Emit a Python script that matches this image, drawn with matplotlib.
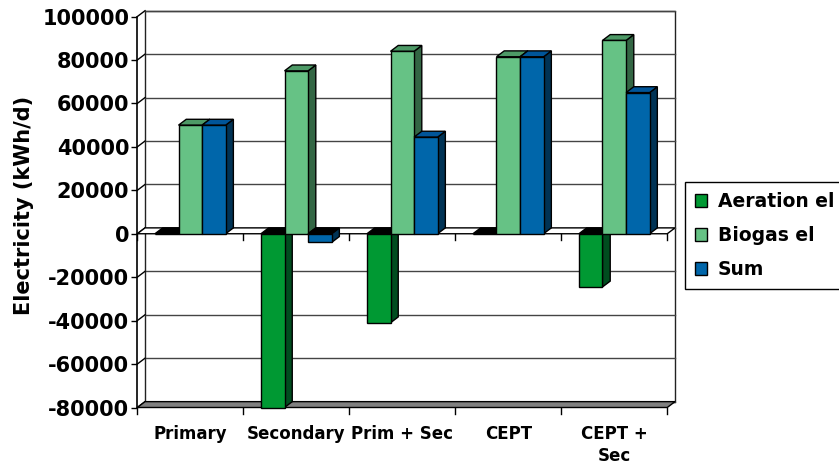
import matplotlib
matplotlib.use('Agg')
import matplotlib.pyplot as plt
from matplotlib.patches import Polygon, Patch

plt.rcParams['font.family'] = 'DejaVu Sans'
plt.rcParams['font.weight'] = 'bold'

categories = ['Primary', 'Secondary', 'Prim + Sec', 'CEPT', 'CEPT +\nSec']
aeration_el = [0, -80000, -41000, 0, -24500]
biogas_el = [50000, 75000, 84000, 81500, 89000]
sum_el = [50000, -4000, 44500, 81500, 65000]
series_names = ['Aeration el', 'Biogas el', 'Sum']
y_ticks = list(range(-80000, 100001, 20000))

# front, side and top shade of each series
shades = {
    'Aeration el': ('#009933', '#004d1f', '#3a8a4a'),
    'Biogas el': ('#66c285', '#336644', '#4d9966'),
    'Sum': ('#0066aa', '#003355', '#005599'),
}

dx = 0.073      # depth offset, category units
dy = 2700       # depth offset, kWh/d
bar_w = 1 / 4.5
tick_len = 2800

fig = plt.figure(figsize=(8.39, 4.63), dpi=100)
ax = fig.add_axes([137.3 / 839, 55.5 / 463, (675 - 137.3) / 839, 396.8 / 463])
x0, x1 = -0.5, len(categories) - 0.5
y0, y1 = y_ticks[0], y_ticks[-1]
ax.set_xlim(x0, x1 + dx)
ax.set_ylim(y0, y1 + dy)
for s in ax.spines.values():
    s.set_visible(False)

# back wall and gridlines
ax.add_patch(Polygon([(x0 + dx, y0 + dy), (x1 + dx, y0 + dy), (x1 + dx, y1 + dy), (x0 + dx, y1 + dy)],
                     closed=True, fc='white', ec='#222222', lw=1, zorder=1, clip_on=False))
for v in y_ticks:
    ax.plot([x0 + dx, x1 + dx], [v + dy, v + dy], color='#444444', lw=1, zorder=1.1, clip_on=False)
    ax.plot([x0, x0 + dx], [v, v + dy], color='black', lw=1, zorder=1.1, clip_on=False)

# floor and the plane at zero
ax.add_patch(Polygon([(x0, y0), (x1, y0), (x1 + dx, y0 + dy), (x0 + dx, y0 + dy)],
                     closed=True, fc='#808080', ec='black', lw=1, zorder=1.5, clip_on=False))
ax.add_patch(Polygon([(x0, 0), (x1, 0), (x1 + dx, dy), (x0 + dx, dy)],
                     closed=True, fc='white', ec='black', lw=1, zorder=1.5))
ax.plot([x0, x0], [y0, y1], color='black', lw=1.2, zorder=1.6, clip_on=False)

# category boundary ticks, at the floor and at zero
for b in range(len(categories) + 1):
    xb = x0 + b
    ax.plot([xb, xb], [y0, y0 - tick_len], color='black', lw=1, clip_on=False, zorder=1.6)
    ax.plot([xb, xb], [0, -tick_len], color='black', lw=1, zorder=1.6)

zo = 3
for i in range(len(categories)):
    for j, (name, vals) in enumerate(zip(series_names, [aeration_el, biogas_el, sum_el])):
        v = vals[i]
        left = i - 1.5 * bar_w + j * bar_w
        right = left + bar_w
        front_c, side_c, top_c = shades[name]
        top_y = max(v, 0)
        if v <= 0:
            top_c = 'black'
        ax.add_patch(Polygon([(right, 0), (right, v), (right + dx, v + dy), (right + dx, dy)],
                             closed=True, fc=side_c, ec='black', lw=1, zorder=zo, clip_on=False))
        ax.add_patch(Polygon([(left, top_y), (right, top_y), (right + dx, top_y + dy), (left + dx, top_y + dy)],
                             closed=True, fc=top_c, ec='black', lw=1, zorder=zo))
        ax.bar(left, v, width=bar_w, align='edge', color=front_c, edgecolor='black', lw=1,
               zorder=zo + 0.5, clip_on=False)
        zo += 1

ax.set_xticks(range(len(categories)))
ax.set_xticklabels(categories, fontsize=12, fontweight='bold')
for lbl in ax.get_xticklabels():
    lbl.set_linespacing(1.3)
ax.tick_params(axis='x', length=0, pad=12.5)

ax.set_yticks(y_ticks)
ax.set_yticklabels([str(v) for v in y_ticks], fontsize=15, fontweight='bold')
ax.tick_params(axis='y', length=4.3, width=1, pad=1.5, direction='out')

ax.set_ylabel('Electricity (kWh/d)', fontsize=15, fontweight='bold')
ax.yaxis.set_label_coords(-0.192, 0.51)

handles = [Patch(fc=shades[n][0], ec='black', lw=1) for n in series_names]
leg = fig.legend(handles, series_names, loc='upper left',
                 bbox_to_anchor=(685 / 839, (463 - 181.7) / 463), borderaxespad=0,
                 prop={'weight': 'bold', 'size': 13.5},
                 handlelength=0.64, handleheight=0.64, handletextpad=0.57,
                 borderpad=0.55, labelspacing=0.8, fancybox=False, framealpha=1)
leg.get_frame().set_edgecolor('black')
leg.get_frame().set_linewidth(1)

fig.savefig('out.png', dpi=100)
